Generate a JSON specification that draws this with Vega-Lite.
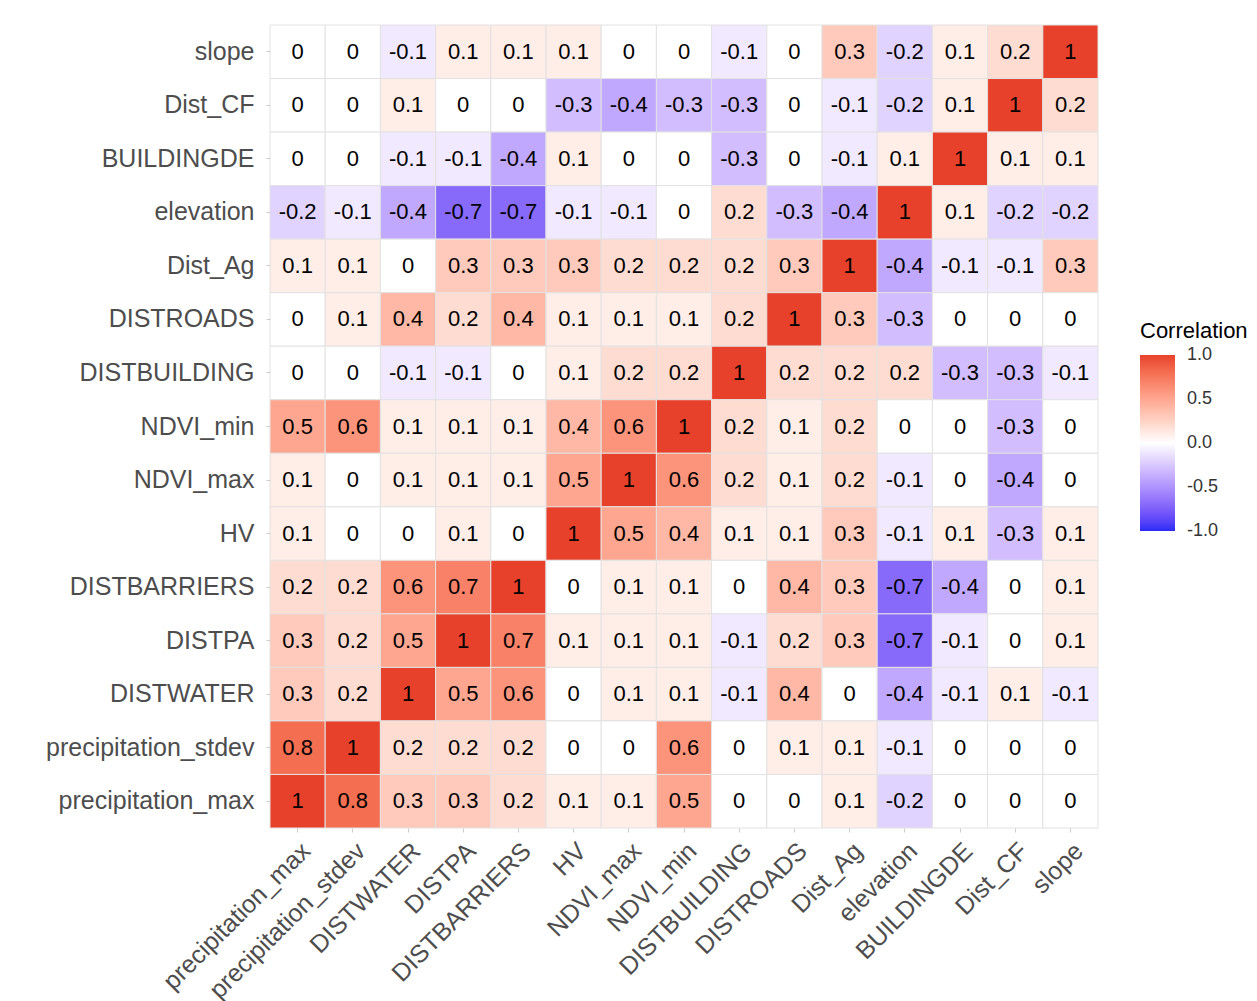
{
  "$schema": "https://vega.github.io/schema/vega-lite/v6.json",
  "autosize": {"type": "none"},
  "padding": {"left": 270, "top": 25, "right": 159, "bottom": 173},
  "width": 828,
  "height": 803,
  "background": "white",
  "config": {
    "font": "Liberation Sans",
    "locale": {
      "number": {"decimal": ".", "thousands": ",", "grouping": [3], "currency": ["$", ""], "minus": "-"}
    },
    "view": {"stroke": null},
    "axis": {"domain": false, "grid": false, "title": null, "labelFont": "Liberation Sans"}
  },
  "datasets": {
    "corr": [
      {"var1": "precipitation_max", "var2": "slope", "r": 0}, {"var1": "precipitation_stdev", "var2": "slope", "r": 0}, {"var1": "DISTWATER", "var2": "slope", "r": -0.1}, {"var1": "DISTPA", "var2": "slope", "r": 0.1}, {"var1": "DISTBARRIERS", "var2": "slope", "r": 0.1}, {"var1": "HV", "var2": "slope", "r": 0.1}, {"var1": "NDVI_max", "var2": "slope", "r": 0}, {"var1": "NDVI_min", "var2": "slope", "r": 0}, {"var1": "DISTBUILDING", "var2": "slope", "r": -0.1}, {"var1": "DISTROADS", "var2": "slope", "r": 0}, {"var1": "Dist_Ag", "var2": "slope", "r": 0.3}, {"var1": "elevation", "var2": "slope", "r": -0.2}, {"var1": "BUILDINGDE", "var2": "slope", "r": 0.1}, {"var1": "Dist_CF", "var2": "slope", "r": 0.2}, {"var1": "slope", "var2": "slope", "r": 1},

      {"var1": "precipitation_max", "var2": "Dist_CF", "r": 0}, {"var1": "precipitation_stdev", "var2": "Dist_CF", "r": 0}, {"var1": "DISTWATER", "var2": "Dist_CF", "r": 0.1}, {"var1": "DISTPA", "var2": "Dist_CF", "r": 0}, {"var1": "DISTBARRIERS", "var2": "Dist_CF", "r": 0}, {"var1": "HV", "var2": "Dist_CF", "r": -0.3}, {"var1": "NDVI_max", "var2": "Dist_CF", "r": -0.4}, {"var1": "NDVI_min", "var2": "Dist_CF", "r": -0.3}, {"var1": "DISTBUILDING", "var2": "Dist_CF", "r": -0.3}, {"var1": "DISTROADS", "var2": "Dist_CF", "r": 0}, {"var1": "Dist_Ag", "var2": "Dist_CF", "r": -0.1}, {"var1": "elevation", "var2": "Dist_CF", "r": -0.2}, {"var1": "BUILDINGDE", "var2": "Dist_CF", "r": 0.1}, {"var1": "Dist_CF", "var2": "Dist_CF", "r": 1}, {"var1": "slope", "var2": "Dist_CF", "r": 0.2},

      {"var1": "precipitation_max", "var2": "BUILDINGDE", "r": 0}, {"var1": "precipitation_stdev", "var2": "BUILDINGDE", "r": 0}, {"var1": "DISTWATER", "var2": "BUILDINGDE", "r": -0.1}, {"var1": "DISTPA", "var2": "BUILDINGDE", "r": -0.1}, {"var1": "DISTBARRIERS", "var2": "BUILDINGDE", "r": -0.4}, {"var1": "HV", "var2": "BUILDINGDE", "r": 0.1}, {"var1": "NDVI_max", "var2": "BUILDINGDE", "r": 0}, {"var1": "NDVI_min", "var2": "BUILDINGDE", "r": 0}, {"var1": "DISTBUILDING", "var2": "BUILDINGDE", "r": -0.3}, {"var1": "DISTROADS", "var2": "BUILDINGDE", "r": 0}, {"var1": "Dist_Ag", "var2": "BUILDINGDE", "r": -0.1}, {"var1": "elevation", "var2": "BUILDINGDE", "r": 0.1}, {"var1": "BUILDINGDE", "var2": "BUILDINGDE", "r": 1}, {"var1": "Dist_CF", "var2": "BUILDINGDE", "r": 0.1}, {"var1": "slope", "var2": "BUILDINGDE", "r": 0.1},

      {"var1": "precipitation_max", "var2": "elevation", "r": -0.2}, {"var1": "precipitation_stdev", "var2": "elevation", "r": -0.1}, {"var1": "DISTWATER", "var2": "elevation", "r": -0.4}, {"var1": "DISTPA", "var2": "elevation", "r": -0.7}, {"var1": "DISTBARRIERS", "var2": "elevation", "r": -0.7}, {"var1": "HV", "var2": "elevation", "r": -0.1}, {"var1": "NDVI_max", "var2": "elevation", "r": -0.1}, {"var1": "NDVI_min", "var2": "elevation", "r": 0}, {"var1": "DISTBUILDING", "var2": "elevation", "r": 0.2}, {"var1": "DISTROADS", "var2": "elevation", "r": -0.3}, {"var1": "Dist_Ag", "var2": "elevation", "r": -0.4}, {"var1": "elevation", "var2": "elevation", "r": 1}, {"var1": "BUILDINGDE", "var2": "elevation", "r": 0.1}, {"var1": "Dist_CF", "var2": "elevation", "r": -0.2}, {"var1": "slope", "var2": "elevation", "r": -0.2},

      {"var1": "precipitation_max", "var2": "Dist_Ag", "r": 0.1}, {"var1": "precipitation_stdev", "var2": "Dist_Ag", "r": 0.1}, {"var1": "DISTWATER", "var2": "Dist_Ag", "r": 0}, {"var1": "DISTPA", "var2": "Dist_Ag", "r": 0.3}, {"var1": "DISTBARRIERS", "var2": "Dist_Ag", "r": 0.3}, {"var1": "HV", "var2": "Dist_Ag", "r": 0.3}, {"var1": "NDVI_max", "var2": "Dist_Ag", "r": 0.2}, {"var1": "NDVI_min", "var2": "Dist_Ag", "r": 0.2}, {"var1": "DISTBUILDING", "var2": "Dist_Ag", "r": 0.2}, {"var1": "DISTROADS", "var2": "Dist_Ag", "r": 0.3}, {"var1": "Dist_Ag", "var2": "Dist_Ag", "r": 1}, {"var1": "elevation", "var2": "Dist_Ag", "r": -0.4}, {"var1": "BUILDINGDE", "var2": "Dist_Ag", "r": -0.1}, {"var1": "Dist_CF", "var2": "Dist_Ag", "r": -0.1}, {"var1": "slope", "var2": "Dist_Ag", "r": 0.3},

      {"var1": "precipitation_max", "var2": "DISTROADS", "r": 0}, {"var1": "precipitation_stdev", "var2": "DISTROADS", "r": 0.1}, {"var1": "DISTWATER", "var2": "DISTROADS", "r": 0.4}, {"var1": "DISTPA", "var2": "DISTROADS", "r": 0.2}, {"var1": "DISTBARRIERS", "var2": "DISTROADS", "r": 0.4}, {"var1": "HV", "var2": "DISTROADS", "r": 0.1}, {"var1": "NDVI_max", "var2": "DISTROADS", "r": 0.1}, {"var1": "NDVI_min", "var2": "DISTROADS", "r": 0.1}, {"var1": "DISTBUILDING", "var2": "DISTROADS", "r": 0.2}, {"var1": "DISTROADS", "var2": "DISTROADS", "r": 1}, {"var1": "Dist_Ag", "var2": "DISTROADS", "r": 0.3}, {"var1": "elevation", "var2": "DISTROADS", "r": -0.3}, {"var1": "BUILDINGDE", "var2": "DISTROADS", "r": 0}, {"var1": "Dist_CF", "var2": "DISTROADS", "r": 0}, {"var1": "slope", "var2": "DISTROADS", "r": 0},

      {"var1": "precipitation_max", "var2": "DISTBUILDING", "r": 0}, {"var1": "precipitation_stdev", "var2": "DISTBUILDING", "r": 0}, {"var1": "DISTWATER", "var2": "DISTBUILDING", "r": -0.1}, {"var1": "DISTPA", "var2": "DISTBUILDING", "r": -0.1}, {"var1": "DISTBARRIERS", "var2": "DISTBUILDING", "r": 0}, {"var1": "HV", "var2": "DISTBUILDING", "r": 0.1}, {"var1": "NDVI_max", "var2": "DISTBUILDING", "r": 0.2}, {"var1": "NDVI_min", "var2": "DISTBUILDING", "r": 0.2}, {"var1": "DISTBUILDING", "var2": "DISTBUILDING", "r": 1}, {"var1": "DISTROADS", "var2": "DISTBUILDING", "r": 0.2}, {"var1": "Dist_Ag", "var2": "DISTBUILDING", "r": 0.2}, {"var1": "elevation", "var2": "DISTBUILDING", "r": 0.2}, {"var1": "BUILDINGDE", "var2": "DISTBUILDING", "r": -0.3}, {"var1": "Dist_CF", "var2": "DISTBUILDING", "r": -0.3}, {"var1": "slope", "var2": "DISTBUILDING", "r": -0.1},

      {"var1": "precipitation_max", "var2": "NDVI_min", "r": 0.5}, {"var1": "precipitation_stdev", "var2": "NDVI_min", "r": 0.6}, {"var1": "DISTWATER", "var2": "NDVI_min", "r": 0.1}, {"var1": "DISTPA", "var2": "NDVI_min", "r": 0.1}, {"var1": "DISTBARRIERS", "var2": "NDVI_min", "r": 0.1}, {"var1": "HV", "var2": "NDVI_min", "r": 0.4}, {"var1": "NDVI_max", "var2": "NDVI_min", "r": 0.6}, {"var1": "NDVI_min", "var2": "NDVI_min", "r": 1}, {"var1": "DISTBUILDING", "var2": "NDVI_min", "r": 0.2}, {"var1": "DISTROADS", "var2": "NDVI_min", "r": 0.1}, {"var1": "Dist_Ag", "var2": "NDVI_min", "r": 0.2}, {"var1": "elevation", "var2": "NDVI_min", "r": 0}, {"var1": "BUILDINGDE", "var2": "NDVI_min", "r": 0}, {"var1": "Dist_CF", "var2": "NDVI_min", "r": -0.3}, {"var1": "slope", "var2": "NDVI_min", "r": 0},

      {"var1": "precipitation_max", "var2": "NDVI_max", "r": 0.1}, {"var1": "precipitation_stdev", "var2": "NDVI_max", "r": 0}, {"var1": "DISTWATER", "var2": "NDVI_max", "r": 0.1}, {"var1": "DISTPA", "var2": "NDVI_max", "r": 0.1}, {"var1": "DISTBARRIERS", "var2": "NDVI_max", "r": 0.1}, {"var1": "HV", "var2": "NDVI_max", "r": 0.5}, {"var1": "NDVI_max", "var2": "NDVI_max", "r": 1}, {"var1": "NDVI_min", "var2": "NDVI_max", "r": 0.6}, {"var1": "DISTBUILDING", "var2": "NDVI_max", "r": 0.2}, {"var1": "DISTROADS", "var2": "NDVI_max", "r": 0.1}, {"var1": "Dist_Ag", "var2": "NDVI_max", "r": 0.2}, {"var1": "elevation", "var2": "NDVI_max", "r": -0.1}, {"var1": "BUILDINGDE", "var2": "NDVI_max", "r": 0}, {"var1": "Dist_CF", "var2": "NDVI_max", "r": -0.4}, {"var1": "slope", "var2": "NDVI_max", "r": 0},

      {"var1": "precipitation_max", "var2": "HV", "r": 0.1}, {"var1": "precipitation_stdev", "var2": "HV", "r": 0}, {"var1": "DISTWATER", "var2": "HV", "r": 0}, {"var1": "DISTPA", "var2": "HV", "r": 0.1}, {"var1": "DISTBARRIERS", "var2": "HV", "r": 0}, {"var1": "HV", "var2": "HV", "r": 1}, {"var1": "NDVI_max", "var2": "HV", "r": 0.5}, {"var1": "NDVI_min", "var2": "HV", "r": 0.4}, {"var1": "DISTBUILDING", "var2": "HV", "r": 0.1}, {"var1": "DISTROADS", "var2": "HV", "r": 0.1}, {"var1": "Dist_Ag", "var2": "HV", "r": 0.3}, {"var1": "elevation", "var2": "HV", "r": -0.1}, {"var1": "BUILDINGDE", "var2": "HV", "r": 0.1}, {"var1": "Dist_CF", "var2": "HV", "r": -0.3}, {"var1": "slope", "var2": "HV", "r": 0.1},

      {"var1": "precipitation_max", "var2": "DISTBARRIERS", "r": 0.2}, {"var1": "precipitation_stdev", "var2": "DISTBARRIERS", "r": 0.2}, {"var1": "DISTWATER", "var2": "DISTBARRIERS", "r": 0.6}, {"var1": "DISTPA", "var2": "DISTBARRIERS", "r": 0.7}, {"var1": "DISTBARRIERS", "var2": "DISTBARRIERS", "r": 1}, {"var1": "HV", "var2": "DISTBARRIERS", "r": 0}, {"var1": "NDVI_max", "var2": "DISTBARRIERS", "r": 0.1}, {"var1": "NDVI_min", "var2": "DISTBARRIERS", "r": 0.1}, {"var1": "DISTBUILDING", "var2": "DISTBARRIERS", "r": 0}, {"var1": "DISTROADS", "var2": "DISTBARRIERS", "r": 0.4}, {"var1": "Dist_Ag", "var2": "DISTBARRIERS", "r": 0.3}, {"var1": "elevation", "var2": "DISTBARRIERS", "r": -0.7}, {"var1": "BUILDINGDE", "var2": "DISTBARRIERS", "r": -0.4}, {"var1": "Dist_CF", "var2": "DISTBARRIERS", "r": 0}, {"var1": "slope", "var2": "DISTBARRIERS", "r": 0.1},

      {"var1": "precipitation_max", "var2": "DISTPA", "r": 0.3}, {"var1": "precipitation_stdev", "var2": "DISTPA", "r": 0.2}, {"var1": "DISTWATER", "var2": "DISTPA", "r": 0.5}, {"var1": "DISTPA", "var2": "DISTPA", "r": 1}, {"var1": "DISTBARRIERS", "var2": "DISTPA", "r": 0.7}, {"var1": "HV", "var2": "DISTPA", "r": 0.1}, {"var1": "NDVI_max", "var2": "DISTPA", "r": 0.1}, {"var1": "NDVI_min", "var2": "DISTPA", "r": 0.1}, {"var1": "DISTBUILDING", "var2": "DISTPA", "r": -0.1}, {"var1": "DISTROADS", "var2": "DISTPA", "r": 0.2}, {"var1": "Dist_Ag", "var2": "DISTPA", "r": 0.3}, {"var1": "elevation", "var2": "DISTPA", "r": -0.7}, {"var1": "BUILDINGDE", "var2": "DISTPA", "r": -0.1}, {"var1": "Dist_CF", "var2": "DISTPA", "r": 0}, {"var1": "slope", "var2": "DISTPA", "r": 0.1},

      {"var1": "precipitation_max", "var2": "DISTWATER", "r": 0.3}, {"var1": "precipitation_stdev", "var2": "DISTWATER", "r": 0.2}, {"var1": "DISTWATER", "var2": "DISTWATER", "r": 1}, {"var1": "DISTPA", "var2": "DISTWATER", "r": 0.5}, {"var1": "DISTBARRIERS", "var2": "DISTWATER", "r": 0.6}, {"var1": "HV", "var2": "DISTWATER", "r": 0}, {"var1": "NDVI_max", "var2": "DISTWATER", "r": 0.1}, {"var1": "NDVI_min", "var2": "DISTWATER", "r": 0.1}, {"var1": "DISTBUILDING", "var2": "DISTWATER", "r": -0.1}, {"var1": "DISTROADS", "var2": "DISTWATER", "r": 0.4}, {"var1": "Dist_Ag", "var2": "DISTWATER", "r": 0}, {"var1": "elevation", "var2": "DISTWATER", "r": -0.4}, {"var1": "BUILDINGDE", "var2": "DISTWATER", "r": -0.1}, {"var1": "Dist_CF", "var2": "DISTWATER", "r": 0.1}, {"var1": "slope", "var2": "DISTWATER", "r": -0.1},

      {"var1": "precipitation_max", "var2": "precipitation_stdev", "r": 0.8}, {"var1": "precipitation_stdev", "var2": "precipitation_stdev", "r": 1}, {"var1": "DISTWATER", "var2": "precipitation_stdev", "r": 0.2}, {"var1": "DISTPA", "var2": "precipitation_stdev", "r": 0.2}, {"var1": "DISTBARRIERS", "var2": "precipitation_stdev", "r": 0.2}, {"var1": "HV", "var2": "precipitation_stdev", "r": 0}, {"var1": "NDVI_max", "var2": "precipitation_stdev", "r": 0}, {"var1": "NDVI_min", "var2": "precipitation_stdev", "r": 0.6}, {"var1": "DISTBUILDING", "var2": "precipitation_stdev", "r": 0}, {"var1": "DISTROADS", "var2": "precipitation_stdev", "r": 0.1}, {"var1": "Dist_Ag", "var2": "precipitation_stdev", "r": 0.1}, {"var1": "elevation", "var2": "precipitation_stdev", "r": -0.1}, {"var1": "BUILDINGDE", "var2": "precipitation_stdev", "r": 0}, {"var1": "Dist_CF", "var2": "precipitation_stdev", "r": 0}, {"var1": "slope", "var2": "precipitation_stdev", "r": 0},

      {"var1": "precipitation_max", "var2": "precipitation_max", "r": 1}, {"var1": "precipitation_stdev", "var2": "precipitation_max", "r": 0.8}, {"var1": "DISTWATER", "var2": "precipitation_max", "r": 0.3}, {"var1": "DISTPA", "var2": "precipitation_max", "r": 0.3}, {"var1": "DISTBARRIERS", "var2": "precipitation_max", "r": 0.2}, {"var1": "HV", "var2": "precipitation_max", "r": 0.1}, {"var1": "NDVI_max", "var2": "precipitation_max", "r": 0.1}, {"var1": "NDVI_min", "var2": "precipitation_max", "r": 0.5}, {"var1": "DISTBUILDING", "var2": "precipitation_max", "r": 0}, {"var1": "DISTROADS", "var2": "precipitation_max", "r": 0}, {"var1": "Dist_Ag", "var2": "precipitation_max", "r": 0.1}, {"var1": "elevation", "var2": "precipitation_max", "r": -0.2}, {"var1": "BUILDINGDE", "var2": "precipitation_max", "r": 0}, {"var1": "Dist_CF", "var2": "precipitation_max", "r": 0}, {"var1": "slope", "var2": "precipitation_max", "r": 0}
    ]
  },
  "data": {"name": "corr"},
  "encoding": {
    "x": {
      "field": "var1",
      "type": "nominal",
      "sort": ["precipitation_max", "precipitation_stdev", "DISTWATER", "DISTPA", "DISTBARRIERS", "HV", "NDVI_max", "NDVI_min", "DISTBUILDING", "DISTROADS", "Dist_Ag", "elevation", "BUILDINGDE", "Dist_CF", "slope"],
      "scale": {"paddingInner": 0, "paddingOuter": 0},
      "axis": {
        "labelAngle": -45,
        "labelAlign": "right",
        "labelBaseline": "top",
        "labelFontSize": 25,
        "labelColor": "#4D4D4D",
        "labelPadding": 6,
        "tickColor": "#CCCCCC",
        "tickSize": 4,
        "labelOverlap": false,
        "labelLimit": 400
      }
    },
    "y": {
      "field": "var2",
      "type": "nominal",
      "sort": ["slope", "Dist_CF", "BUILDINGDE", "elevation", "Dist_Ag", "DISTROADS", "DISTBUILDING", "NDVI_min", "NDVI_max", "HV", "DISTBARRIERS", "DISTPA", "DISTWATER", "precipitation_stdev", "precipitation_max"],
      "scale": {"paddingInner": 0, "paddingOuter": 0},
      "axis": {
        "labelFontSize": 25,
        "labelColor": "#4D4D4D",
        "labelPadding": 12,
        "tickColor": "#CCCCCC",
        "tickSize": 4,
        "labelLimit": 400
      }
    }
  },
  "layer": [
    {
      "mark": {"type": "rect", "stroke": "#E2E2E2", "strokeWidth": 1},
      "encoding": {
        "fill": {
          "field": "r",
          "type": "quantitative",
          "title": "Correlation",
          "scale": {
            "domain": [-1, 0, 1],
            "range": ["#2B2BF6", "#FFFFFF", "#E8412B"],
            "interpolate": "lab"
          },
          "legend": {
            "orient": "none",
            "legendX": 870,
            "legendY": 296,
            "direction": "vertical",
            "gradientLength": 176,
            "gradientThickness": 35,
            "gradientStrokeWidth": 0,
            "values": [-1, -0.5, 0, 0.5, 1],
            "format": ".1f",
            "labelFontSize": 18,
            "labelColor": "#333333",
            "labelOffset": 12,
            "labelBaseline": "middle",
            "titleFontSize": 22,
            "titleFontWeight": "normal",
            "titleColor": "#000000",
            "titlePadding": 12,
            "encode": {
              "labels": {"update": {"baseline": {"value": "middle"}}}
            }
          }
        }
      }
    },
    {
      "mark": {"type": "text", "fontSize": 22, "color": "#000000", "font": "Liberation Sans"},
      "encoding": {
        "text": {"field": "r", "type": "quantitative"}
      }
    }
  ]
}
